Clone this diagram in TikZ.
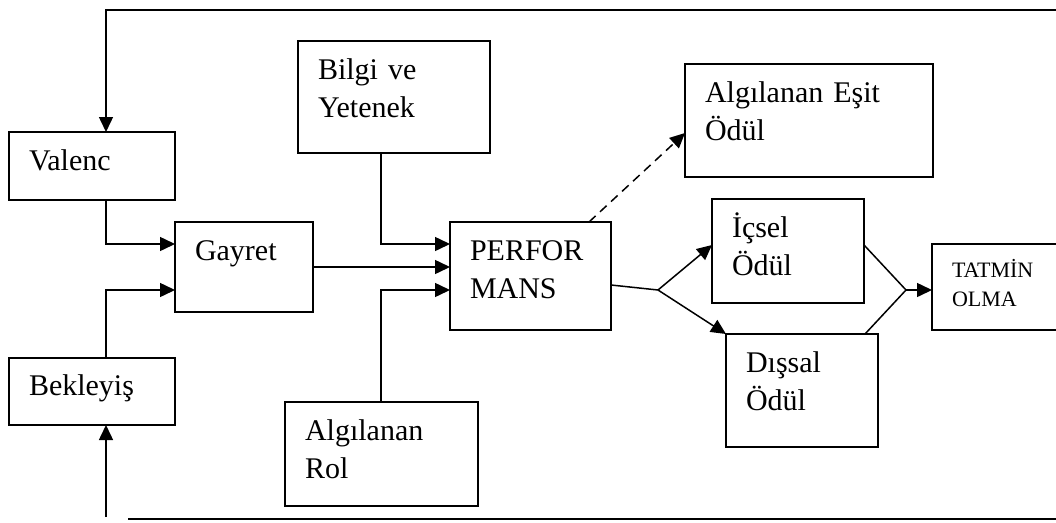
\documentclass[tikz,border=0pt]{standalone}
\usepackage{fontspec}
\setmainfont{Liberation Serif}
\usepackage{tikz}
\usetikzlibrary{arrows.meta,calc}
\tikzstyle{box} = [draw, line width=1.8pt, anchor=north west, align=left, outer sep=0pt,
    inner xsep=20pt, inner ysep=0pt, text height=38pt, font=\fontsize{30}{38}\selectfont]
\tikzstyle{arr} = [line width=1.5pt, -{Triangle[length=15pt,width=14pt]}]
\tikzstyle{ln} = [line width=1.5pt]

\begin{document}
\begin{tikzpicture}[x=1pt, y=-1pt] % y grows downwards
    \useasboundingbox (0,0) rectangle (1056,522);
    % left column
    \node[box, text width=126pt, text depth=30pt] (valenc) at (9,132) {Valenc};
    \node[box, text width=126pt, text depth=30pt, text height=37pt] (bekleyis) at (9,358) {Bekleyiş};
    \node[box, text width=98pt, text depth=52pt] (gayret) at (175,222) {Gayret};
    % inputs of performance
    \node[box, text width=152pt, text depth=74pt] (bilgi) at (298,41) {Bilgi ve\\Yetenek};
    \node[box, text width=153pt, text depth=66pt] (rol) at (285,402) {Algılanan\\Rol};
    \node[box, text width=121pt, text depth=70pt] (perf) at (450,222) {PERFOR\\MANS};
    % rewards
    \node[box, text width=208pt, text depth=75pt] (esit) at (685,64) {Algılanan Eşit\\Ödül};
    \node[box, text width=112pt, text depth=66pt] (icsel) at (712,199) {İçsel\\Ödül};
    \node[box, text width=112pt, text depth=75pt] (dissal) at (726,334) {Dışsal\\Ödül};
    \node[box, text width=108pt, text height=33pt, text depth=53pt,
        font=\fontsize{22}{29}\selectfont] (tatmin) at (932,244) {TATMİN\\OLMA};

    % helper points
    \coordinate (fbx) at (106,0);
    \coordinate (col) at (381,0);
    \coordinate (topend) at (1060,10);
    \coordinate (fbbot) at (106,517);
    \coordinate (botL) at (128,519);
    \coordinate (botR) at (1060,519);
    \coordinate (split) at (658,290);
    \coordinate (merge) at (906,290);

    % feedback loops
    \draw[arr] (topend) -| (fbx |- valenc.north);
    \draw[arr] (fbbot) -- (fbx |- bekleyis.south);
    \draw[ln] (botL) -- (botR);

    % into effort
    \draw[arr] (fbx |- valenc.south) |- ($(gayret.north west)+(0,22)$);
    \draw[arr] (fbx |- bekleyis.north) |- ($(gayret.south west)+(0,-22)$);

    % into performance
    \draw[arr] (col |- bilgi.south) |- ($(perf.north west)+(0,22)$);
    \draw[arr] (gayret.east) -- (gayret.east -| perf.west);
    \draw[arr] (col |- rol.north) |- ($(perf.north west)+(0,68)$);

    % rewards
    \draw[arr, dash pattern=on 9pt off 6pt] ($(perf.north east)+(-22,0)$) -- ($(esit.north west)+(0,69)$);
    \draw[ln] ($(perf.north east)+(0,63)$) -- (split);
    \draw[arr] (split) -- ($(icsel.north west)+(0,46)$);
    \draw[arr] (split) -- (dissal.north west);
    \draw[ln] ($(icsel.north east)+(0,46)$) -- (merge);
    \draw[ln] ($(dissal.north east)+(-13,0)$) -- (merge);
    \draw[arr] (merge) -- (merge -| tatmin.west);
\end{tikzpicture}
\end{document}
